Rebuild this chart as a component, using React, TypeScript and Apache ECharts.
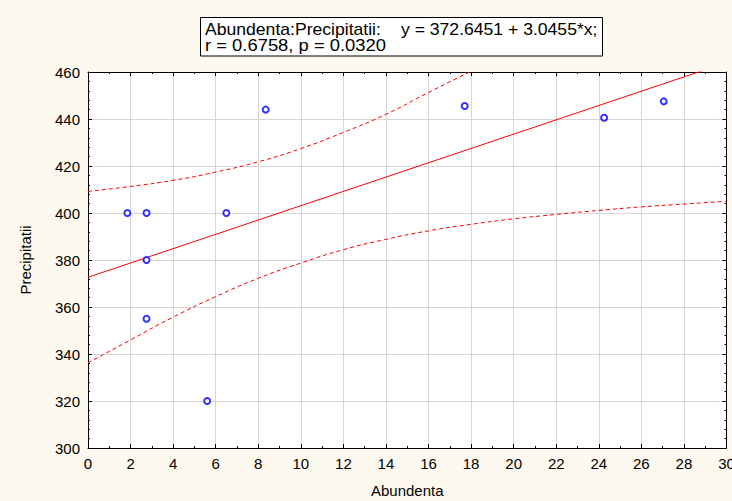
import React, { useEffect, useRef } from "react";
import * as echarts from "echarts";

const abundenta = [1.85, 2.75, 2.75, 2.75, 5.6, 6.5, 8.35, 17.7, 24.25, 27.05];
const precipitatii = [400, 400, 380, 355, 320, 400, 444, 445.5, 440.5, 447.5];

const fitX = [0, 30];
const fitY = [372.65, 464.01];

const bandX = [0, 2, 4, 6, 8, 10, 12, 14, 16, 18, 20, 22, 24, 26, 28, 30];
const upperBand = [409.2, 411.3, 413.9, 417.4, 421.8, 427.4, 434.3, 442.0, 451.3, 460.3];
const lowerBand = [336.2, 346.0, 355.7, 364.4, 372.2, 378.7, 384.4, 388.8, 392.4, 395.2, 397.5, 399.4, 401.1, 402.6, 403.8, 405.0];

const titleLabel = "Abundenta:Precipitatii:";
const titleEquation = "y = 372.6451 + 3.0455*x;";
const titleStats = "r = 0.6758, p = 0.0320";

const FONT = "'Liberation Sans', Arial, sans-serif";

export default function App() {
  const ref = useRef<HTMLDivElement>(null);
  useEffect(() => {
    const chart = echarts.init(ref.current!, undefined, { renderer: "svg" });
    const grid = { left: 88, top: 72, width: 638.5, height: 376 };
    const tickStyle = { color: "#000", width: 1 };
    const titleFont = `16px ${FONT}`;
    const option: any = {
      animation: false,
      backgroundColor: "#FEF9EE",
      textStyle: { fontFamily: FONT },
      grid: { ...grid, outerBoundsMode: "none", containLabel: false, show: true, backgroundColor: "#FFFFFF", borderWidth: 0 },
      graphic: [
        {
          type: "rect",
          shape: { x: 200.5, y: 17.5, width: 402, height: 38.5 },
          style: { fill: "#FFFFFF", stroke: "#000", lineWidth: 1 },
          z: 100,
        },
        {
          type: "text",
          x: 205,
          y: 29.5,
          scaleX: 1.1,
          style: { text: titleLabel, fill: "#000", font: titleFont, verticalAlign: "middle" },
          z: 101,
        },
        {
          type: "text",
          x: 401,
          y: 29.5,
          scaleX: 1.1,
          style: { text: titleEquation, fill: "#000", font: titleFont, verticalAlign: "middle" },
          z: 101,
        },
        {
          type: "text",
          x: 205,
          y: 45.5,
          scaleX: 1.15,
          style: { text: titleStats, fill: "#000", font: titleFont, verticalAlign: "middle" },
          z: 101,
        },
      ],
      xAxis: [
        {
          type: "value",
          min: 0,
          max: 30,
          interval: 2,
          name: "Abundenta",
          nameLocation: "middle",
          nameGap: 35,
          nameTextStyle: { fontSize: 15, color: "#000", fontFamily: FONT },
          axisLine: { show: true, lineStyle: { color: "#000" } },
          axisTick: { show: true, inside: true, length: 4, lineStyle: tickStyle },
          minorTick: { show: true, splitNumber: 2, length: 2, lineStyle: tickStyle },
          axisLabel: { fontSize: 15, color: "#000", margin: 8, fontFamily: FONT },
          splitLine: { show: true, lineStyle: { color: "#D6D6D6", width: 1 } },
        },
        {
          type: "value",
          position: "top",
          min: 0,
          max: 30,
          interval: 2,
          axisLine: { show: true, onZero: false, lineStyle: { color: "#000" } },
          axisTick: { show: true, inside: true, length: 4, lineStyle: tickStyle },
          minorTick: { show: true, splitNumber: 2, length: 2, lineStyle: tickStyle },
          axisLabel: { show: false },
          splitLine: { show: false },
        },
      ],
      yAxis: [
        {
          type: "value",
          min: 300,
          max: 460,
          interval: 20,
          name: "Precipitatii",
          nameLocation: "middle",
          nameGap: 55,
          nameTextStyle: { fontSize: 15, color: "#000", fontFamily: FONT },
          axisLine: { show: true, lineStyle: { color: "#000" } },
          axisTick: { show: true, inside: true, length: 4, lineStyle: tickStyle },
          minorTick: { show: true, splitNumber: 5, length: 2, lineStyle: tickStyle },
          axisLabel: { fontSize: 15, color: "#000", margin: 8, fontFamily: FONT },
          splitLine: { show: true, lineStyle: { color: "#D6D6D6", width: 1 } },
        },
        {
          type: "value",
          position: "right",
          min: 300,
          max: 460,
          interval: 20,
          axisLine: { show: true, onZero: false, lineStyle: { color: "#000" } },
          axisTick: { show: true, inside: true, length: 4, lineStyle: tickStyle },
          minorTick: { show: true, splitNumber: 5, length: 2, lineStyle: tickStyle },
          axisLabel: { show: false },
          splitLine: { show: false },
        },
      ],
      series: [
        {
          type: "line",
          data: fitX.map((x, i) => [x, fitY[i]]),
          symbol: "none",
          clip: true,
          lineStyle: { color: "#FF0000", width: 1 },
          z: 3,
        },
        {
          type: "line",
          data: upperBand.map((y, i) => [bandX[i], y]),
          symbol: "none",
          smooth: 0.5,
          clip: true,
          lineStyle: { color: "#FF0000", width: 1, type: [4, 3] },
          z: 3,
        },
        {
          type: "line",
          data: lowerBand.map((y, i) => [bandX[i], y]),
          symbol: "none",
          smooth: 0.5,
          clip: true,
          lineStyle: { color: "#FF0000", width: 1, type: [4, 3] },
          z: 3,
        },
        {
          type: "scatter",
          data: abundenta.map((x, i) => [x, precipitatii[i]]),
          symbol: "emptyCircle",
          symbolSize: 6,
          itemStyle: { color: "#0000FF", borderColor: "#0000FF", borderWidth: 1.3 },
          z: 4,
        },
      ],
    };
    chart.setOption(option);
    return () => chart.dispose();
  }, []);
  return <div ref={ref} style={{ width: 732, height: 501, position: "absolute", left: 0, top: 0 }} />;
}
